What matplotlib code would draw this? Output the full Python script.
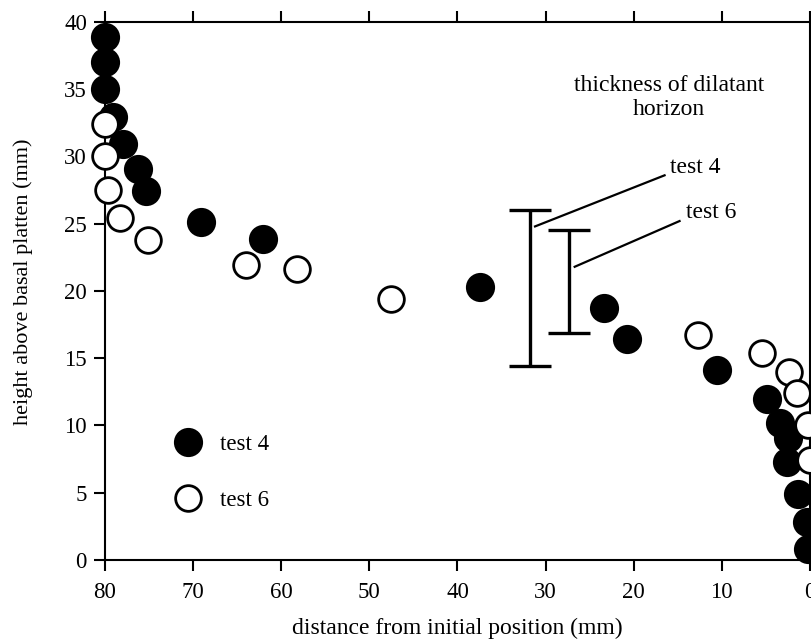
import numpy as np
import matplotlib.pyplot as plt

plt.rcParams['font.family'] = ['Liberation Serif', 'DejaVu Serif']

# test 4 (filled circles): distance from initial position (mm), height (mm)
test4_x = [80.0, 80.0, 80.0, 79.1, 78.0, 76.2, 75.3, 69.1, 62.1, 37.5,
           23.4, 20.8, 10.6, 4.9, 3.4, 2.5, 2.6, 1.4, 0.3, 0.2]
test4_y = [38.9, 37.0, 35.0, 32.9, 30.9, 29.1, 27.4, 25.1, 23.9, 20.3,
           18.7, 16.4, 14.1, 12.0, 10.2, 9.1, 7.3, 4.9, 2.8, 0.8]

# test 6 (open circles)
test6_x = [80.0, 80.0, 79.7, 78.3, 75.1, 64.0, 58.2, 47.5, 12.7, 5.4,
           2.4, 1.5, 0.2, 0.0]
test6_y = [32.4, 30.0, 27.5, 25.4, 23.8, 21.9, 21.6, 19.4, 16.7, 15.4,
           14.0, 12.4, 10.0, 7.4]

# thickness of dilatant horizon: x position, bottom, top
bar_names = ['test 4', 'test 6']
bar_x = [31.8, 27.4]
bar_lo = [14.4, 16.9]
bar_hi = [26.0, 24.5]

fig = plt.figure(figsize=(8.12, 6.43), dpi=100)
ax = fig.add_axes([0.1293, 0.1291, 0.8682, 0.8367])

ax.plot(test4_x, test4_y, 'o', ms=19.5, mfc='black', mec='black', mew=1.5,
        label='test 4', clip_on=False, zorder=3)
ax.plot(test6_x, test6_y, 'o', ms=18.5, mfc='white', mec='black', mew=2.0,
        label='test 6', clip_on=False, zorder=3)

mid = [(lo + hi) / 2 for lo, hi in zip(bar_lo, bar_hi)]
half = [(hi - lo) / 2 for lo, hi in zip(bar_lo, bar_hi)]
ax.errorbar(bar_x, mid, yerr=half, fmt='none', ecolor='black',
            elinewidth=2.4, capsize=15, capthick=2.4)

# leader lines from the bars to their labels
ax.plot([31.2, 16.5], [24.8, 28.6], color='black', lw=1.6)
ax.plot([26.7, 14.8], [21.8, 25.2], color='black', lw=1.6)
ax.text(15.9, 29.2, bar_names[0], fontsize=17, ha='left', va='center')
ax.text(14.1, 25.8, bar_names[1], fontsize=17, ha='left', va='center')

ax.text(16.0, 34.4, 'thickness of dilatant\nhorizon', fontsize=17,
        ha='center', va='center', linespacing=1.15)

ax.set_xlim(80, 0)
ax.set_ylim(0, 40)
ax.set_xticks(np.arange(80, -1, -10))
ax.set_yticks(np.arange(0, 41, 5))

for s in ax.spines.values():
    s.set_linewidth(1.5)
ax.tick_params(direction='out', length=8, width=1.5, labelsize=16.5,
               top=True, right=True)
ax.tick_params(axis='x', pad=8)
ax.tick_params(axis='y', pad=5)

ax.set_xlabel('distance from initial position (mm)', fontsize=17)
ax.set_ylabel('height above basal platten (mm)', fontsize=16)
ax.xaxis.set_label_coords(0.5, -0.107)
ax.yaxis.set_label_coords(-0.102, 0.517)

ax.legend(frameon=False, loc='upper left', bbox_to_anchor=(0.056, 0.273),
          fontsize=16.5, labelspacing=1.52, handletextpad=0.4, numpoints=1)

fig.savefig('out.png', dpi=100)
